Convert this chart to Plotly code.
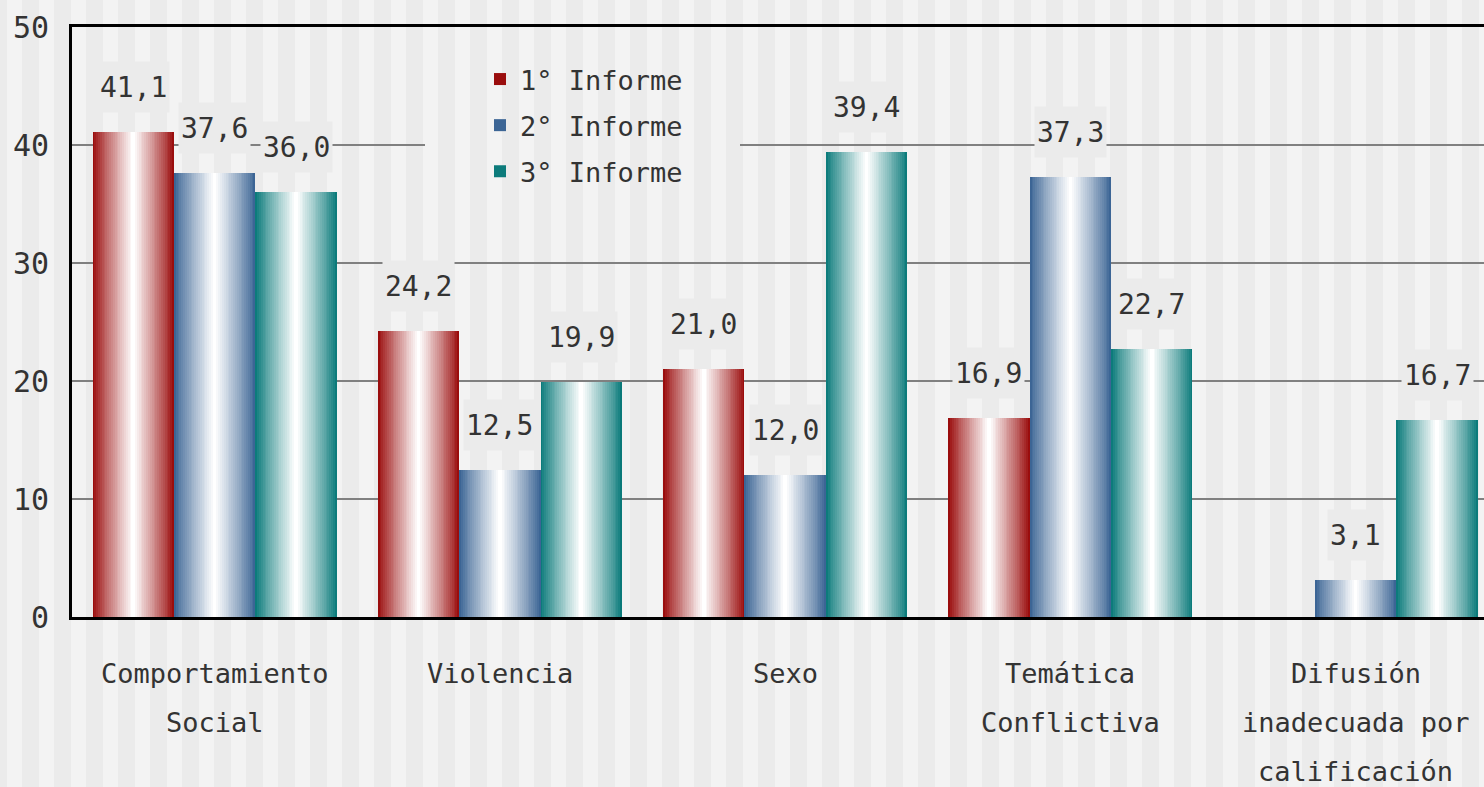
import plotly.graph_objects as go

# ---------------- data ----------------
categories = ["Comportamiento<br>Social", "Violencia", "Sexo",
              "Temática<br>Conflictiva", "Difusión<br>inadecuada por<br>calificación"]
series_names = ["1° Informe", "2° Informe", "3° Informe"]
informe_1 = [41.1, 24.2, 21.0, 16.9, None]
informe_2 = [37.6, 12.5, 12.0, 37.3, 3.1]
informe_3 = [36.0, 19.9, 39.4, 22.7, 16.7]
y_ticks = [0, 10, 20, 30, 40, 50]

series_values = [informe_1, informe_2, informe_3]
edge_colors = ["#9A0D0D", "#3C6595", "#0C7B7B"]

# ---------------- layout geometry ----------------
W, H = 1484, 787
ML, MR, MT, MB = 72, 0, 27, 170
PW, PH = W - ML - MR, H - MT - MB
CAT_PX = 285.25                       # pixels per category
X_MAX = -0.5 + PW / CAT_PX
BAR_W = 0.2854                        # bar width in category units
K = 22                                # gradient layers per bar
FONT = "DejaVu Sans Mono"
TXT = "#333333"
LIGHT, DARK = "#F3F3F3", "#EBEBEB"


def mix(c, t):
    r, g, b = int(c[1:3], 16), int(c[3:5], 16), int(c[5:7], 16)
    r = round(r + (255 - r) * t)
    g = round(g + (255 - g) * t)
    b = round(b + (255 - b) * t)
    return f"rgb({r},{g},{b})"


fig = go.Figure()
x_names = [c.replace("<br>", " ") for c in categories]

for s, (name, vals, col) in enumerate(zip(series_names, series_values, edge_colors)):
    shift = (s - 1) * BAR_W
    for k in range(K):
        wk = BAR_W * (1 - k / K)
        t = (k / (K - 1)) ** 0.9
        fig.add_trace(go.Bar(
            x=x_names, y=[v if v is not None else 0 for v in vals],
            name=name, legendgroup=name, showlegend=(k == 0),
            width=wk, offset=shift - wk / 2,
            marker=dict(color=mix(col, t), line=dict(width=0)),
            hoverinfo="skip" if k else None,
        ))

# data labels
annotations = []
for s, vals in enumerate(series_values):
    shift = (s - 1) * BAR_W
    for i, v in enumerate(vals):
        if v is None:
            continue
        annotations.append(dict(
            x=i + shift, y=v, xref="x", yref="y",
            text=f"{v:.1f}".replace(".", ","),
            showarrow=False, yanchor="bottom", yshift=19,
            height=46, borderpad=2, bgcolor=DARK, valign="middle",
            font=dict(family=FONT, size=28, color=TXT),
        ))

# category labels (line by line, wide line spacing)
for i, cat in enumerate(categories):
    for j, line in enumerate(cat.split("<br>")):
        annotations.append(dict(
            x=i, xref="x", y=0, yref="paper", yanchor="middle",
            yshift=-(56 + 49 * j), text=line, showarrow=False,
            height=30, borderpad=0, valign="middle",
            font=dict(family=FONT, size=27, color=TXT),
        ))

# background stripes
def px_to_paper_x(px):
    return (px - ML) / PW


def py_to_paper_y(py):
    return (H - MB - py) / PH


shapes = []
for k in range(-1, 48):
    x0 = 22 + 32 * k
    shapes.append(dict(
        type="rect", xref="paper", yref="paper", layer="below",
        x0=px_to_paper_x(x0), x1=px_to_paper_x(x0 + 17),
        y0=py_to_paper_y(H + 5), y1=py_to_paper_y(-5),
        fillcolor=DARK, line=dict(width=0),
    ))

# legend patch (hides grid line behind legend, keeps stripes)
def px_to_x(px):
    return (px - ML) / CAT_PX - 0.5


def py_to_y(py):
    return (H - MB - py) / (PH / 50)


LX0, LX1, LY0, LY1 = 425, 740, 60, 190
shapes.append(dict(type="rect", xref="x", yref="y", layer="between",
                   x0=px_to_x(LX0), x1=px_to_x(LX1), y0=py_to_y(LY1), y1=py_to_y(LY0),
                   fillcolor=LIGHT, line=dict(width=0)))
for k in range(-1, 48):
    a, b = 22 + 32 * k, 22 + 32 * k + 17
    a, b = max(a, LX0), min(b, LX1)
    if b > a:
        shapes.append(dict(type="rect", xref="x", yref="y", layer="between",
                           x0=px_to_x(a), x1=px_to_x(b), y0=py_to_y(LY1), y1=py_to_y(LY0),
                           fillcolor=DARK, line=dict(width=0)))

fig.update_layout(
    width=W, height=H,
    margin=dict(l=ML, r=MR, t=MT, b=MB, pad=0),
    paper_bgcolor=LIGHT, plot_bgcolor="rgba(0,0,0,0)",
    barmode="overlay", bargap=0,
    font=dict(family=FONT, color=TXT),
    showlegend=True,
    legend=dict(
        x=px_to_paper_x(480), xanchor="left",
        y=py_to_paper_y(55), yanchor="top",
        bgcolor="rgba(0,0,0,0)", traceorder="grouped", tracegroupgap=8,
        font=dict(family=FONT, size=27, color=TXT),
    ),
    xaxis=dict(
        range=[-0.5, X_MAX], showticklabels=False, ticks="",
        showgrid=False, zeroline=False,
        showline=True, linecolor="black", linewidth=3, mirror=True,
    ),
    yaxis=dict(
        range=[0, 50], tickvals=y_ticks, ticktext=[str(v) for v in y_ticks],
        showgrid=True, gridcolor="#808080", gridwidth=2, zeroline=False,
        showline=True, linecolor="black", linewidth=3, mirror=False,
        ticks="", ticklabelstandoff=14,
        tickfont=dict(family=FONT, size=30, color=TXT),
    ),
    shapes=shapes,
    annotations=annotations,
)

fig.write_html(
    "out.html",
    config={"displayModeBar": False},
    post_script="document.body.style.margin='0';document.body.style.overflow='hidden';",
)
